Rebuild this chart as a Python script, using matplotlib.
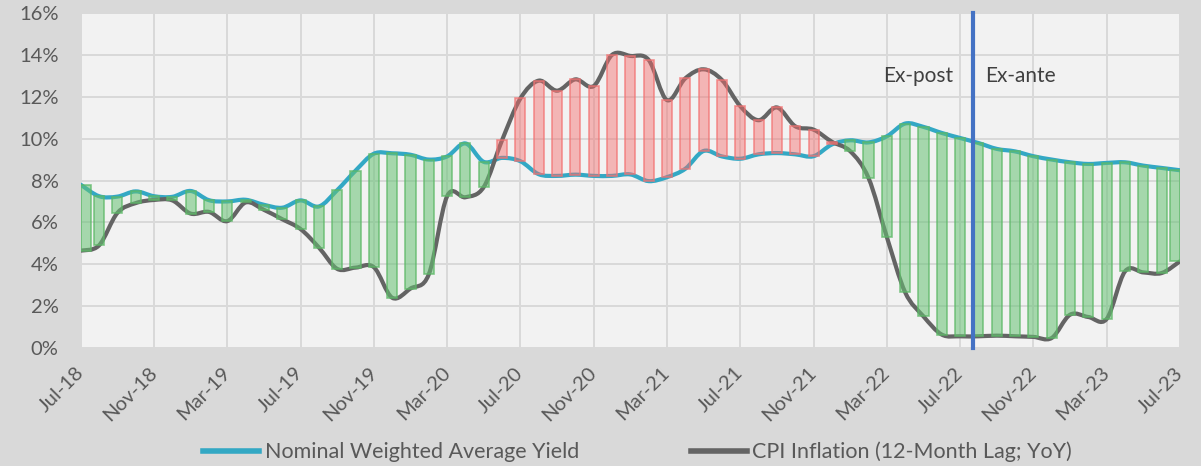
import numpy as np
import matplotlib
matplotlib.use("Agg")
import matplotlib.pyplot as plt
from matplotlib.path import Path
from matplotlib.patches import PathPatch
from matplotlib.lines import Line2D

plt.rcParams['font.family'] = ['Lato', 'DejaVu Sans']

# Monthly data Jul-18 .. Jul-23
nominal_yield = [7.80, 7.25, 7.23, 7.48, 7.25, 7.22, 7.50, 7.06, 7.00, 7.08,
                 6.84, 6.70, 7.05, 6.76, 7.54, 8.47, 9.28, 9.30, 9.23, 9.00,
                 9.15, 9.77, 8.89, 9.08, 8.92, 8.30, 8.22, 8.28, 8.22, 8.22,
                 8.29, 7.97, 8.16, 8.56, 9.41, 9.15, 9.04, 9.25, 9.31, 9.25,
                 9.16, 9.72, 9.92, 9.82, 10.11, 10.72, 10.56, 10.27, 10.03, 9.79,
                 9.51, 9.39, 9.16, 9.00, 8.87, 8.79, 8.84, 8.87, 8.71, 8.60,
                 8.49]
cpi_inflation = [4.65, 4.90, 6.45, 6.92, 7.07, 7.05, 6.42, 6.50, 6.06, 6.95,
                 6.60, 6.15, 5.68, 4.80, 3.78, 3.84, 3.86, 2.40, 2.84, 3.52,
                 7.25, 7.20, 7.69, 9.93, 11.92, 12.77, 12.29, 12.83, 12.51, 14.00,
                 13.95, 13.76, 11.84, 12.88, 13.31, 12.80, 11.55, 10.88, 11.49, 10.59,
                 10.43, 9.85, 9.40, 8.12, 5.30, 2.66, 1.51, 0.64, 0.56, 0.56,
                 0.59, 0.56, 0.53, 0.48, 1.59, 1.48, 1.39, 3.66, 3.61, 3.58,
                 4.14]
tick_labels = ["Jul-18", "Nov-18", "Mar-19", "Jul-19", "Nov-19", "Mar-20", "Jul-20",
               "Nov-20", "Mar-21", "Jul-21", "Nov-21", "Mar-22", "Jul-22", "Nov-22",
               "Mar-23", "Jul-23"]
split_month = 48.7  # ex-post / ex-ante divider position (months since Jul-18)

yv = np.array(nominal_yield)
cv = np.array(cpi_inflation)
x = np.arange(len(yv), dtype=float)


def smooth_path(xs, ys):
    pts = np.column_stack([xs, ys])
    n = len(pts)
    verts = [pts[0]]
    codes = [Path.MOVETO]
    for i in range(n - 1):
        p0 = pts[i - 1] if i > 0 else pts[i]
        p1 = pts[i]
        p2 = pts[i + 1]
        p3 = pts[i + 2] if i + 2 < n else pts[i + 1]
        c1 = p1 + (p2 - p0) / 6.0
        c2 = p2 - (p3 - p1) / 6.0
        verts += [c1, c2, p2]
        codes += [Path.CURVE4] * 3
    return Path(verts, codes)


fig = plt.figure(figsize=(12.01, 4.66), dpi=100, facecolor="#D9D9D9")
ax = fig.add_axes([0.0672, 0.2532, 0.9153, 0.7189])
ax.set_facecolor("#F2F2F2")

blue = "#33A8C4"
gray = "#646464"

ax.add_patch(PathPatch(smooth_path(x, yv), fill=False, edgecolor=blue, lw=3.0,
                       zorder=3, capstyle='round', joinstyle='round'))
ax.add_patch(PathPatch(smooth_path(x, cv), fill=False, edgecolor=gray, lw=3.0,
                       zorder=3, capstyle='round', joinstyle='round'))

w = 0.55
lo = np.minimum(yv, cv)
hi = np.maximum(yv, cv)
left = np.clip(x - w / 2, 0, x[-1] - w)
for xi, l, h, pos in zip(left, lo, hi, yv >= cv):
    if pos:
        fc = (0.40, 0.76, 0.45, 0.55)
        ec = (0.36, 0.72, 0.40, 0.75)
    else:
        fc = (0.96, 0.42, 0.42, 0.45)
        ec = (0.95, 0.45, 0.45, 0.75)
    ax.bar(xi, h - l, bottom=l, width=w, align='edge', color=fc, edgecolor=ec,
           linewidth=1.2, zorder=4)

ax.axvline(split_month, color="#4472C4", lw=3.0, zorder=5, ymin=0, ymax=1,
           clip_on=False)
ax.text(split_month - 1.1, 13.0, "Ex-post", ha='right', va='center',
        fontsize=15, color="#404040", zorder=6)
ax.text(split_month + 0.65, 13.0, "Ex-ante", ha='left', va='center',
        fontsize=15, color="#404040", zorder=6)

ax.set_xlim(0, x[-1])
ax.set_ylim(0, 16)
ax.set_yticks(np.arange(0, 17, 2))
ax.set_yticklabels([f"{v}%" for v in range(0, 17, 2)])
ax.set_xticks(np.arange(0, len(x), 4))
ax.set_xticklabels(tick_labels, rotation=45, ha='right', va='center',
                   rotation_mode='anchor')
ax.tick_params(axis='both', length=0, colors="#595959", labelsize=14.5)
ax.tick_params(axis='y', pad=16)
ax.tick_params(axis='x', pad=16)
ax.grid(True, color="#D9D9D9", lw=1.4, zorder=0)
ax.set_axisbelow(True)
for s in ax.spines.values():
    s.set_visible(False)

handles = [Line2D([], [], color=blue, lw=4),
           Line2D([], [], color=gray, lw=4)]
fig.legend(handles, ["Nominal Weighted Average Yield", "CPI Inflation (12-Month Lag; YoY)"],
           loc='center', bbox_to_anchor=(0.531, 0.030), ncol=2, frameon=False,
           fontsize=15.5, labelcolor="#595959", handlelength=2.6,
           handletextpad=0.25, columnspacing=5.2)

fig.savefig("out.png", dpi=100, facecolor=fig.get_facecolor())
